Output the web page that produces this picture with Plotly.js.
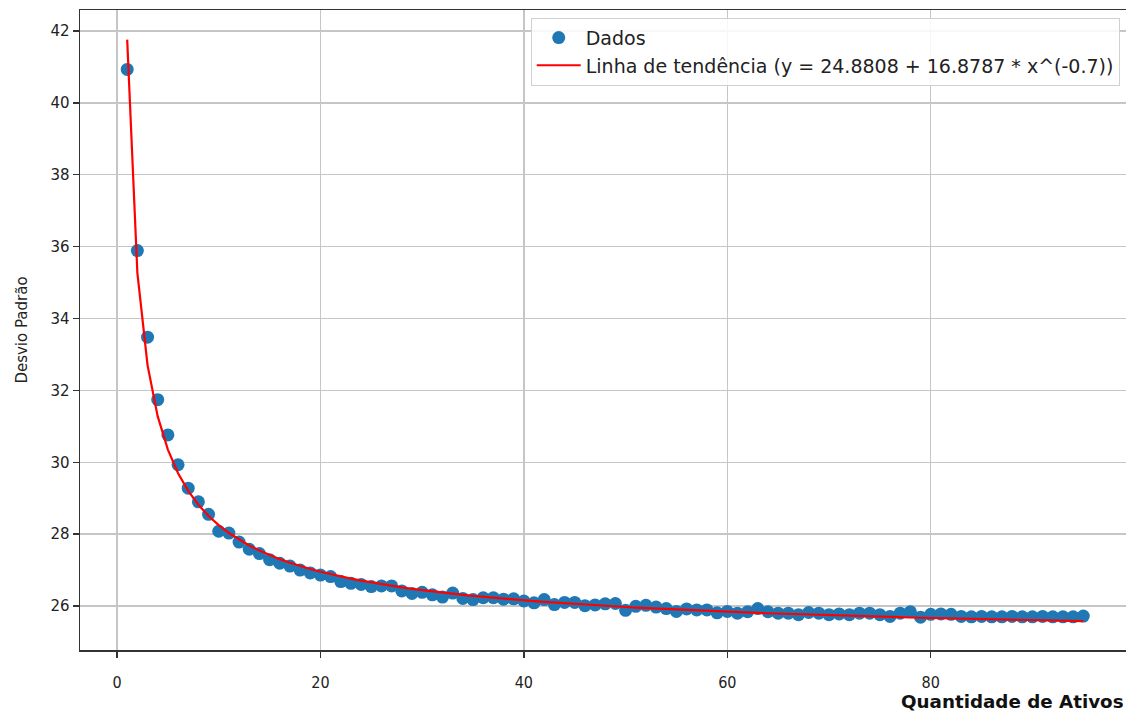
<!DOCTYPE html>
<html>
<head>
<meta charset="utf-8">
<script src="https://cdn.plot.ly/plotly-3.0.1.min.js"></script>
<style>html,body{margin:0;padding:0;background:#fff;overflow:hidden}#chart{width:1126px;height:713px}</style>
</head>
<body>
<div id="chart"></div>
<script>
// Quantidade de Ativos (x)
const ativos = [];
for (let i = 1; i <= 95; i++) ativos.push(i);

// Desvio Padrão observado (Dados)
const desvio = [
  40.93, 35.89, 33.48, 31.74, 30.76, 29.93, 29.28, 28.90, 28.55, 28.08,
  28.03, 27.78, 27.58, 27.46, 27.29, 27.19, 27.11, 27.00, 26.92, 26.86,
  26.82, 26.68, 26.63, 26.60, 26.54, 26.56, 26.56, 26.42, 26.35, 26.38,
  26.31, 26.25, 26.36, 26.21, 26.18, 26.23, 26.23, 26.19, 26.20, 26.14,
  26.09, 26.18, 26.04, 26.10, 26.10, 26.01, 26.03, 26.06, 26.07, 25.88,
  25.99, 26.02, 25.97, 25.93, 25.85, 25.92, 25.89, 25.89, 25.81, 25.85,
  25.80, 25.84, 25.93, 25.84, 25.80, 25.80, 25.76, 25.82, 25.80, 25.76,
  25.78, 25.76, 25.80, 25.80, 25.76, 25.71, 25.80, 25.84, 25.69, 25.77,
  25.78, 25.77, 25.71, 25.70, 25.71, 25.70, 25.70, 25.71, 25.70, 25.70,
  25.71, 25.70, 25.70, 25.70, 25.72
];

// Linha de tendência values
const tendencia = [
  41.760, 35.271, 32.703, 31.277, 30.352, 29.696, 29.204, 28.818, 28.506, 28.249,
  28.031, 27.845, 27.684, 27.542, 27.416, 27.304, 27.204, 27.112, 27.030, 26.954,
  26.884, 26.820, 26.761, 26.705, 26.654, 26.606, 26.561, 26.519, 26.479, 26.442,
  26.406, 26.373, 26.341, 26.311, 26.282, 26.255, 26.229, 26.204, 26.180, 26.157,
  26.135, 26.114, 26.094, 26.075, 26.056, 26.038, 26.021, 26.004, 25.988, 25.972,
  25.957, 25.943, 25.929, 25.915, 25.902, 25.889, 25.877, 25.865, 25.853, 25.842,
  25.831, 25.820, 25.809, 25.799, 25.789, 25.780, 25.770, 25.761, 25.752, 25.743,
  25.735, 25.726, 25.718, 25.710, 25.703, 25.695, 25.688, 25.680, 25.673, 25.666,
  25.659, 25.653, 25.646, 25.640, 25.634, 25.628, 25.622, 25.616, 25.610, 25.604,
  25.599, 25.593, 25.588, 25.583, 25.577
];

const legendDados = 'Dados';
const legendTendencia = 'Linha de tendência (y = 24.8808 + 16.8787 * x^(-0.7))';
const xTitle = 'Quantidade de Ativos';
const yTitle = 'Desvio Padrão';
const xTicks = [0, 20, 40, 60, 80];
const yTicks = [26, 28, 30, 32, 34, 36, 38, 40, 42];

const traces = [
  {
    x: ativos, y: desvio, type: 'scatter', mode: 'markers', name: legendDados,
    marker: {color: '#1f77b4', size: 13}
  },
  {
    x: ativos, y: tendencia, type: 'scatter', mode: 'lines', name: legendTendencia,
    line: {color: '#ff0000', width: 2.2}
  }
];

const layout = {
  width: 1126, height: 713,
  margin: {l: 80, r: 0, t: 10, b: 63},
  paper_bgcolor: '#ffffff', plot_bgcolor: '#ffffff',
  font: {family: 'DejaVu Sans, sans-serif', color: '#222', size: 14},
  showlegend: true,
  legend: {
    x: 0.994, xanchor: 'right', y: 0.988, yanchor: 'top',
    bgcolor: 'rgba(255,255,255,0.85)', bordercolor: '#d0d0d0', borderwidth: 1,
    font: {size: 19, color: '#222'},
    itemwidth: 44, tracegroupgap: 0
  },
  xaxis: {
    range: [-3.64, 99.2], tickvals: xTicks, ticktext: xTicks.map(String),
    showgrid: true, gridcolor: '#c6c6c6', gridwidth: 1.4, zeroline: false,
    showline: true, linecolor: '#333', linewidth: 1.5, mirror: true,
    ticks: 'outside', ticklen: 6, tickwidth: 1.3, tickcolor: '#333',
    tickfont: {size: 16, family: 'DejaVu Sans Condensed, DejaVu Sans, sans-serif'},
    ticklabelstandoff: 11
  },
  yaxis: {
    range: [24.776, 42.584], tickvals: yTicks, ticktext: yTicks.map(String),
    showgrid: true, gridcolor: '#c6c6c6', gridwidth: 1.4, zeroline: false,
    showline: true, linecolor: '#333', linewidth: 1.5, mirror: false,
    ticks: 'outside', ticklen: 6, tickwidth: 1.3, tickcolor: '#333',
    tickfont: {size: 15},
    title: {text: yTitle, font: {size: 15}, standoff: 19}
  },
  annotations: [
    {
      text: '<b>' + xTitle + '</b>', xref: 'paper', yref: 'paper',
      x: 1, xanchor: 'right', xshift: 0, y: -0.081, yanchor: 'middle',
      showarrow: false,
      font: {size: 18.3, color: '#111', family: 'DejaVu Sans, sans-serif'}
    }
  ]
};

Plotly.newPlot('chart', traces, layout, {displayModeBar: false, staticPlot: true});
</script>
</body>
</html>
